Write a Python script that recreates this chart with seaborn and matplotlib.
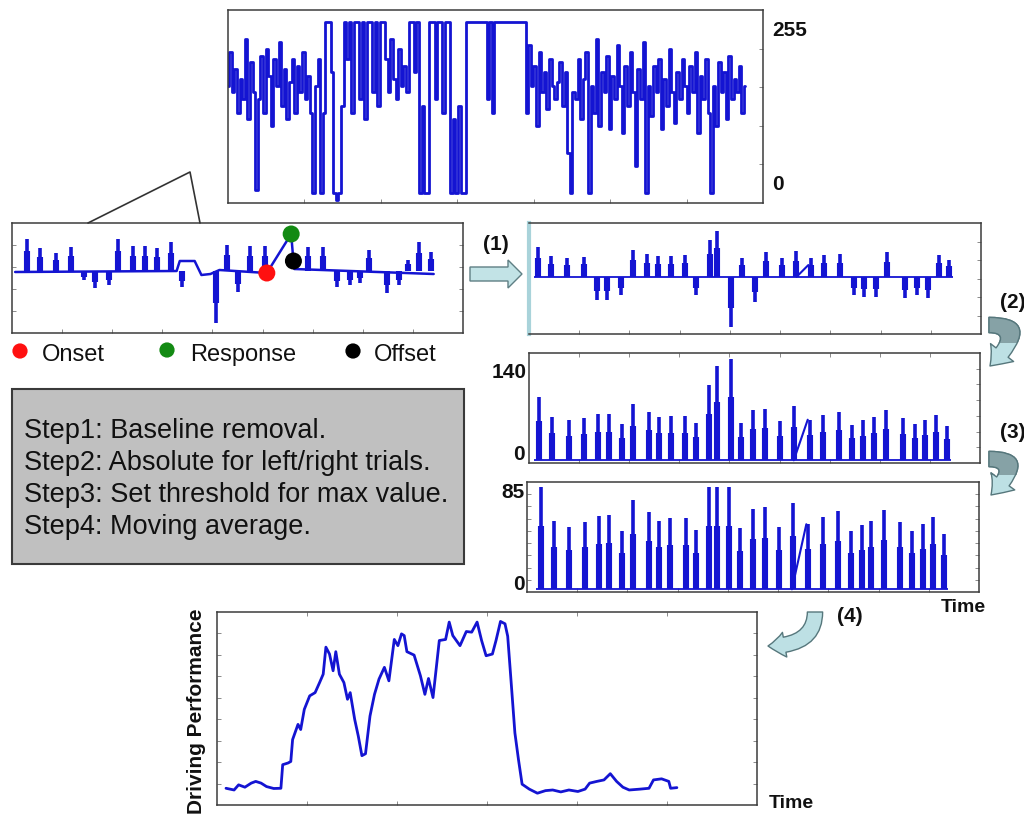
import numpy as np
import matplotlib
matplotlib.use("Agg")
import matplotlib.pyplot as plt
import seaborn as sns
from matplotlib.patches import Rectangle, Polygon, FancyArrowPatch

# ---------------- data ----------------
# raw signal (0-255), top panel
raw_values = [
    160, 210, 150, 185, 120, 170, 140, 230, 110, 195,
    150, 5, 140, 205, 120, 215, 175, 100, 200, 160,
    225, 130, 185, 110, 165, 200, 120, 190, 150, 210,
    140, 175, 120, 0, 160, 200, 0, 120, 255, 255,
    180, 0, -10, 0, 130, 255, 200, 255, 120, 255,
    255, 140, 255, 110, 255, 255, 150, 255, 130, 255,
    255, 200, 150, 230, 170, 140, 215, 160, 190, 150,
    255, 255, 180, 255, 0, 130, 0, 0, 255, 255,
    140, 255, 255, 120, 255, 255, 0, 110, 0, 130,
    0, 0, 255, 255, 255, 255, 255, 255, 255, 255,
    140, 255, 120, 255, 255, 255, 255, 255, 255, 255,
    255, 255, 255, 255, 255, 120, 220, 160, 190, 100,
    210, 150, 180, 125, 200, 160, 140, 165, 195, 130,
    180, 60, 0, 150, 140, 200, 110, 170, 210, 0,
    160, 120, 230, 100, 180, 150, 205, 95, 175, 140,
    220, 160, 90, 190, 130, 210, 150, 40, 185, 140,
    225, 0, 160, 115, 190, 150, 200, 95, 170, 130,
    215, 150, 105, 180, 140, 200, 160, 120, 190, 150,
    210, 90, 175, 140, 200, 120, 0, 160, 100, 195,
    150, 180, 110, 205, 140, 170, 150, 190, 120, 160]

# zoomed trial segment (left panel)
lp_spike_t = [3.3, 6.1, 9.7, 13.1, 16.0, 18.4, 21.4, 23.6, 26.9, 29.5, 32.1, 35.3, 37.6,
              45.2, 47.6, 50.2, 52.8, 56.1, 65.7, 69.0, 72.0, 74.9, 77.2, 79.2, 83.1, 85.7,
              87.9, 90.2, 92.8]
lp_spike_v = [32, 23, 18, 24, -9, -17, -14, 32, 25, 25, 23, 29, -16,
              -52, 26, -21, 25, 25, 24, 24, -16, -14, -12, 21, -22, -14,
              11, 29, 19]
lp_trace_t = [0.7, 36.5, 37.2, 40.5, 42.0, 44.0, 46.0, 56.5, 61.9, 62.4, 62.6, 93.5]
lp_trace_v = [-1, 0, 10, 10, -4, -3, 1, -2, 37, 10, 2, -3]
event_names = ["Onset", "Response", "Offset"]
event_t = [56.5, 61.9, 62.4]
event_v = [-2, 37, 10]
event_colors = ["#ff1010", "#138a13", "#000000"]

# step (1): baseline removed
p1_t = [2.0, 4.9, 8.5, 12.1, 15.1, 17.3, 20.4, 22.9, 26.2, 28.6, 31.4, 34.6, 37.0, 40.0,
        41.7, 44.7, 47.1, 49.9, 52.5, 55.9, 59.0, 62.4, 65.2, 68.8, 71.8, 74.2, 76.7,
        79.3, 83.1, 85.9, 88.2, 90.6, 93.0]
p1_v = [90, 63, 55, 60, -70, -70, -55, 80, 67, 63, 63, 65, -55, 110,
        137, -150, 55, -75, 75, 57, 77, 55, 65, 67, -55, -60, -60,
        73, -63, -55, -63, 65, 50]
p1_ramp_t = [59.2, 61.8]
p1_ramp_v = [0, 35]

# step (2): absolute values
p2_t = [2.3, 5.2, 8.8, 12.3, 15.3, 17.7, 20.6, 23.0, 26.5, 28.8, 31.5, 34.7, 37.0, 39.9,
        41.7, 44.7, 47.0, 49.7, 52.3, 55.7, 58.7, 62.2, 65.2, 68.7, 71.6, 74.1, 76.4,
        79.2, 82.9, 85.6, 87.9, 90.2, 92.7]
p2_v = [87, 60, 55, 58, 64, 64, 50, 77, 67, 60, 61, 61, 52, 104,
        130, 140, 52, 69, 71, 54, 75, 56, 62, 67, 49, 55, 60,
        69, 58, 50, 56, 62, 47]
p2_ramp_t = [58.7, 61.8]
p2_ramp_v = [0, 56]

# step (3): threshold at 85
p3_t = [3.1, 5.9, 9.4, 12.9, 15.9, 18.2, 21.1, 23.4, 26.9, 29.2, 31.7, 35.1, 37.4, 40.3,
        42.1, 44.7, 47.2, 50.0, 52.6, 55.8, 58.9, 62.1, 65.4, 68.7, 71.6, 74.1, 76.2,
        78.9, 82.5, 85.2, 87.7, 89.8, 92.3]
p3_v = [85, 57, 52, 56, 61, 62, 48, 74, 64, 57, 59, 59, 49, 85,
        85, 85, 51, 67, 68, 52, 72, 54, 60, 65, 48, 53, 57,
        66, 56, 48, 54, 60, 46]
p3_ramp_t = [58.6, 61.8]
p3_ramp_v = [0, 54]

# step (4): moving average -> driving performance
dp_time = [0.10, 0.19, 0.24, 0.31, 0.38, 0.43, 0.49, 0.55, 0.63, 0.71,
           0.73, 0.79, 0.82, 0.84, 0.90, 0.93, 0.97, 1.03, 1.09, 1.14,
           1.18, 1.21, 1.25, 1.29, 1.32, 1.36, 1.41, 1.45, 1.48, 1.53,
           1.57, 1.61, 1.65, 1.70, 1.75, 1.80, 1.86, 1.91, 1.97, 2.01,
           2.05, 2.08, 2.11, 2.19, 2.26, 2.31, 2.35, 2.40, 2.47, 2.54,
           2.58, 2.62, 2.70, 2.77, 2.83, 2.89, 2.94, 2.99, 3.06, 3.10,
           3.15, 3.20, 3.23, 3.27, 3.31, 3.35, 3.39, 3.47, 3.56, 3.65,
           3.73, 3.82, 3.91, 4.01, 4.09, 4.14, 4.22, 4.30, 4.37, 4.44,
           4.51, 4.58, 4.70, 4.80, 4.85, 4.94, 5.02, 5.04, 5.11]
dp_value = [0.78, 0.70, 0.94, 0.83, 1.02, 1.10, 1.02, 0.86, 0.77, 0.78,
            1.88, 1.96, 2.03, 3.05, 3.76, 3.52, 4.46, 5.09, 5.24, 5.71,
            6.10, 7.36, 7.04, 6.26, 7.15, 6.10, 5.71, 4.93, 5.24, 3.99,
            3.21, 2.30, 2.39, 4.15, 5.16, 5.87, 6.42, 5.79, 7.72, 7.43,
            7.98, 7.90, 7.15, 6.99, 6.03, 5.16, 5.90, 5.01, 7.67, 7.72,
            8.53, 7.90, 7.43, 8.09, 8.06, 8.53, 7.67, 6.96, 7.04, 7.67,
            8.56, 8.45, 7.87, 5.63, 3.36, 2.11, 0.97, 0.74, 0.55, 0.67,
            0.70, 0.61, 0.70, 0.63, 0.74, 1.02, 1.10, 1.17, 1.46, 1.10,
            0.83, 0.70, 0.74, 0.78, 1.17, 1.22, 1.10, 0.78, 0.81]

step_lines = ["Step1: Baseline removal.",
              "Step2: Absolute for left/right trials.",
              "Step3: Set threshold for max value.",
              "Step4: Moving average."]

# ---------------- figure ----------------
sns.set_theme(style="white")
plt.rcParams["font.family"] = ["Liberation Sans", "DejaVu Sans"]

W, H = 1024, 818
fig = plt.figure(figsize=(W / 100, H / 100), dpi=100)
fig.patch.set_facecolor("white")
BLUE = "#1414d2"
SPINE = "#3c3c3c"


def add_box(x0, y0, x1, y1):
    return fig.add_axes([x0 / W, 1 - y1 / H, (x1 - x0) / W, (y1 - y0) / H])


def style(ax, xl, yl, nx, ny, left=False, right=True, bottom=True, top=False):
    ax.set_xlim(xl)
    ax.set_ylim(yl)
    ax.set_xticks(np.linspace(xl[0], xl[1], nx + 1)[1:-1])
    ax.set_yticks(np.linspace(yl[0], yl[1], ny + 1)[1:-1])
    ax.tick_params(direction="in", length=3, width=0.7, colors="#8a8a8a",
                   left=left, right=right, bottom=bottom, top=top,
                   labelleft=False, labelbottom=False, labelright=False, labeltop=False)
    for s in ax.spines.values():
        s.set_color(SPINE)
        s.set_linewidth(1.1)
        s.set_visible(True)
    ax.set_xlabel("")
    ax.set_ylabel("")
    ax.set_facecolor("white")
    ax.grid(False)


def spikes(ax, t, v):
    t = np.asarray(t, float)
    v = np.asarray(v, float)
    ax.vlines(t, 0, v, colors=BLUE, lw=2.6)
    ax.vlines(t, 0, v * 0.62, colors=BLUE, lw=4.4)


# top raw signal
ax0 = add_box(228, 10, 763, 203)
idx = np.arange(len(raw_values))
sns.lineplot(x=idx, y=raw_values, ax=ax0, color=BLUE, lw=2.0, estimator=None,
             sort=False, drawstyle="steps-mid")
style(ax0, (0, 205.8), (-14.9, 272.9), 7, 5)

# left zoomed panel
axl = add_box(12, 223, 463, 333)
spikes(axl, lp_spike_t, lp_spike_v)
sns.lineplot(x=lp_trace_t, y=lp_trace_v, ax=axl, color=BLUE, lw=1.8,
             estimator=None, sort=False)
sns.scatterplot(x=event_t, y=event_v, hue=event_names, palette=event_colors,
                s=150, edgecolor="none", ax=axl, legend=False, zorder=5)
style(axl, (0, 100), (-62, 48), 9, 5, left=True, right=True)

# panel 1
ax1 = add_box(529, 223, 981, 334)
ax1.hlines(0, min(p1_t) - 0.8, max(p1_t) + 0.8, colors=BLUE, lw=1.3)
spikes(ax1, p1_t, p1_v)
sns.lineplot(x=p1_ramp_t, y=p1_ramp_v, ax=ax1, color=BLUE, lw=1.5, estimator=None, sort=False)
style(ax1, (0, 100), (-170, 160), 9, 6)
ax1.spines["left"].set_color("#a9d3da")
ax1.spines["left"].set_linewidth(3)

# panel 2
ax2 = add_box(529, 353, 980, 463)
ax2.hlines(0, min(p2_t) - 1.2, max(p2_t) + 0.8, colors=BLUE, lw=1.3)
spikes(ax2, p2_t, p2_v)
sns.lineplot(x=p2_ramp_t, y=p2_ramp_v, ax=ax2, color=BLUE, lw=1.5, estimator=None, sort=False)
style(ax2, (0, 100), (-3.7, 148), 9, 7, top=True)

# panel 3
ax3 = add_box(527, 482, 979, 592)
ax3.hlines(0, min(p3_t) - 1.2, max(p3_t) + 0.8, colors=BLUE, lw=1.3)
spikes(ax3, p3_t, p3_v)
sns.lineplot(x=p3_ramp_t, y=p3_ramp_v, ax=ax3, color=BLUE, lw=1.5, estimator=None, sort=False)
style(ax3, (0, 100), (-2.2, 89), 9, 9, left=True)

# bottom driving performance
ax4 = add_box(217, 612, 757, 805)
sns.lineplot(x=dp_time, y=dp_value, ax=ax4, color=BLUE, lw=2.0, estimator=None, sort=False)
style(ax4, (0, 6), (0, 9), 6, 9, left=True, right=True, top=True)

# ---------------- overlay annotations ----------------
ov = fig.add_axes([0, 0, 1, 1], zorder=10)
ov.set_xlim(0, W)
ov.set_ylim(H, 0)
ov.set_axis_off()
ov.patch.set_alpha(0)

# callout from raw signal to zoomed panel
ov.plot([88, 190, 200], [223, 172, 223], color="#333333", lw=1.2)

# legend
ov.scatter([20, 167, 353], [351, 350, 351], s=120, c=event_colors, edgecolors="none")
for xx, name in zip([42, 190, 374], event_names):
    ov.text(xx, 355, name, fontsize=17, ha="left", va="center", color="#111111")

# steps box
ov.add_patch(Rectangle((12, 389), 452, 175, facecolor="#c0c0c0", edgecolor="#3a3a3a", lw=1.5))
for yy, line in zip([431, 463, 495, 527], step_lines):
    ov.text(24, yy, line, fontsize=19.5, ha="left", va="center", color="#111111")

bold = dict(fontweight="bold", color="#111111")
ov.text(772, 30, "255", fontsize=15, ha="left", va="center", **bold)
ov.text(772, 185, "0", fontsize=15, ha="left", va="center", **bold)
ov.text(527, 372, "140", fontsize=15, ha="right", va="center", **bold)
ov.text(525, 455, "0", fontsize=15, ha="right", va="center", **bold)
ov.text(525, 493, "85", fontsize=15, ha="right", va="center", **bold)
ov.text(525, 585, "0", fontsize=15, ha="right", va="center", **bold)
ov.text(963, 607, "Time", fontsize=14, ha="center", va="center", **bold)
ov.text(791, 803, "Time", fontsize=14, ha="center", va="center", **bold)
ov.text(196, 711, "Driving Performance", fontsize=15, rotation=90, ha="center", va="center", **bold)
ov.text(496, 245, "(1)", fontsize=15, ha="center", va="center", **bold)
ov.text(1000, 302, "(2)", fontsize=15, ha="left", va="center", **bold)
ov.text(1000, 432, "(3)", fontsize=15, ha="left", va="center", **bold)
ov.text(837, 617, "(4)", fontsize=15, ha="left", va="center", **bold)

ARROW_LIGHT = "#bde0e4"
ARROW_DARK = "#86a2a6"
ARROW_EC = "#56777c"
# block arrow (1)
ov.add_patch(Polygon([(470, 267), (508, 267), (508, 260), (522, 274), (508, 288), (508, 281), (470, 281)],
                     closed=True, facecolor="#c2e3e6", edgecolor="#5f7f84", lw=1.0))


def curved_arrow(pa, pb, cstyle, tw, hw, hl, split_y=None):
    style_s = f"simple,head_length={hl},head_width={hw},tail_width={tw}"
    base = FancyArrowPatch(pa, pb, connectionstyle=cstyle, arrowstyle=style_s,
                           mutation_scale=10, facecolor=ARROW_LIGHT, edgecolor=ARROW_EC,
                           lw=1.0, shrinkA=0, shrinkB=0)
    ov.add_patch(base)
    if split_y is not None:
        dark = FancyArrowPatch(pa, pb, connectionstyle=cstyle, arrowstyle=style_s,
                               mutation_scale=10, facecolor=ARROW_DARK, edgecolor=ARROW_EC,
                               lw=1.0, shrinkA=0, shrinkB=0)
        ov.add_patch(dark)
        clip = Rectangle((pa[0] - 30, pa[1] - 40), 120, split_y - (pa[1] - 40),
                         transform=ov.transData)
        dark.set_clip_path(clip)


# curved arrows (2), (3)
curved_arrow((989, 325), (990, 366), "angle3,angleA=0,angleB=45", 1.1, 2.1, 1.3, split_y=343)
curved_arrow((989, 459), (991, 495), "angle3,angleA=0,angleB=45", 1.1, 2.1, 1.3, split_y=475)

# J arrow (4)
curved_arrow((815, 612), (768, 646), "angle3,angleA=-90,angleB=0", 1.1, 1.8, 1.2)

fig.savefig("out.png", dpi=100)
